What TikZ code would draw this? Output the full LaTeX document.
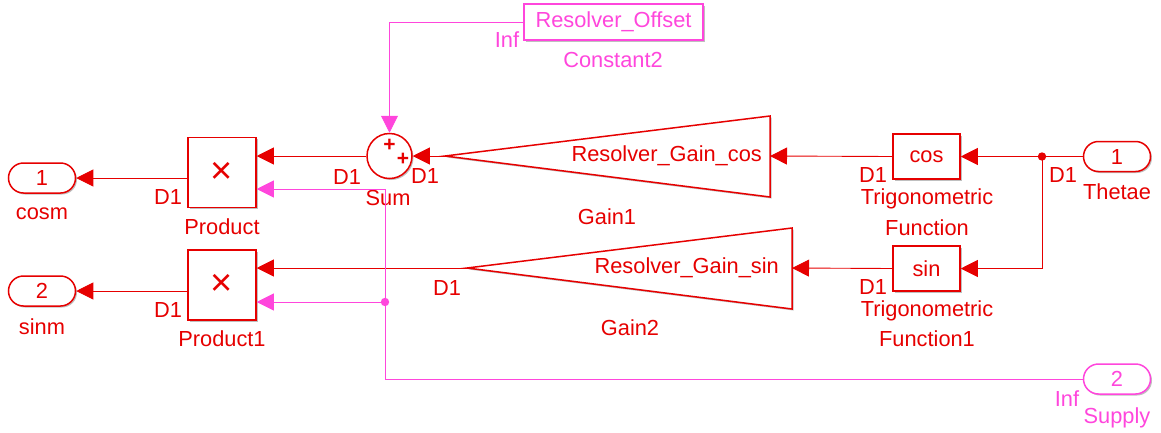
\documentclass[tikz,border=0pt]{standalone}
\usepackage{fontspec}
\setmainfont{Liberation Sans}
\usetikzlibrary{arrows.meta,shadows}
\definecolor{sigred}{RGB}{230,0,0}
\definecolor{sigpink}{RGB}{255,70,220}
\tikzset{
  every node/.style={font=\fontsize{21.8}{26}\selectfont},
  shade/.style={drop shadow={shadow xshift=1.5pt,shadow yshift=-1.5pt,fill=black,opacity=0.25}},
  blk/.style={draw=sigred,line width=1.5pt,fill=white,text=sigred,shade,inner sep=0pt},
  pblk/.style={blk,draw=sigpink,text=sigpink},
  port/.style={blk,rounded corners=15pt,minimum width=67pt,minimum height=30pt},
  pport/.style={port,draw=sigpink,text=sigpink},
  lbl/.style={text=sigred,inner sep=0pt},
  plbl/.style={text=sigpink,inner sep=0pt},
  plus/.style={lbl,font=\fontsize{21}{21}\selectfont\bfseries},
  times/.style={font=\fontsize{38}{38}\selectfont},
  rwire/.style={draw=sigred,line width=0.9pt},
  pwire/.style={draw=sigpink,line width=0.9pt},
  rarr/.style={rwire,-{Triangle[length=17pt,width=17pt]}},
  parr/.style={pwire,-{Triangle[length=17pt,width=17pt]}},
  gainbox/.style={draw=sigred,line width=1.5pt,fill=white,shade},
}
\begin{document}
\begin{tikzpicture}[x=1pt,y=-1pt]
\useasboundingbox (0,0) rectangle (1161,432);

% --- constant offset ---
\node[pblk,minimum width=179pt,minimum height=36pt] (const) at (613.5,22) {Resolver\_Offset};
\node[plbl] (constinf) at (507,40) {Inf};
\node[plbl] (constname) at (613,60) {Constant2};

% --- sum ---
\node[blk,circle,minimum size=45pt] (sum) at (389.5,156) {};
\node[plus] (sp1) at (389.5,145.5) {+};
\node[plus] (sp2) at (403,159) {+};
\node[lbl] (sumname) at (388,198) {Sum};
\node[lbl] (sumd1) at (347,177) {D1};

% --- products ---
\node[blk,minimum width=68pt,minimum height=70pt,times] (prod) at (222,172.5) {×};
\node[lbl] (prodname) at (222,227) {Product};
\node[lbl] (prodd1) at (168,197) {D1};
\node[blk,minimum width=68pt,minimum height=70pt,times] (prod1) at (222,285) {×};
\node[lbl] (prod1name) at (222,339) {Product1};
\node[lbl] (prod1d1) at (168,310) {D1};

% --- outports ---
\node[port] (cosm) at (42,178) {1};
\node[lbl] (cosmname) at (42,214) {cosm};
\node[port] (sinm) at (42,291) {2};
\node[lbl] (sinmname) at (42,327) {sinm};

% --- gains ---
\coordinate (g1tip) at (445,156);
\coordinate (g1base) at (770,156);
\draw[gainbox] (g1tip) -- (770,116) -- (770,197) -- cycle;
\node[lbl,anchor=east] (g1txt) at (762,156) {Resolver\_Gain\_cos};
\node[lbl] (g1name) at (607,217) {Gain1};
\node[lbl] (g1d1) at (425,176) {D1};

\coordinate (g2tip) at (467,268);
\coordinate (g2base) at (792,268);
\draw[gainbox] (g2tip) -- (792,228) -- (792,309) -- cycle;
\node[lbl,anchor=east] (g2txt) at (779,268) {Resolver\_Gain\_sin};
\node[lbl] (g2name) at (630,328) {Gain2};
\node[lbl] (g2d1) at (447,288) {D1};

% --- trigonometric functions ---
\node[blk,minimum width=67pt,minimum height=45pt] (cosf) at (926.5,156.5) {cos};
\node[lbl] (cosd1) at (873,175) {D1};
\node[lbl] (cosn1) at (927,199) {Trigonometric};
\node[lbl] (cosn2) at (927,228) {Function};
\node[blk,minimum width=67pt,minimum height=45pt] (sinf) at (926.5,268.5) {sin};
\node[lbl] (sind1) at (873,287) {D1};
\node[lbl] (sinn1) at (927,311) {Trigonometric};
\node[lbl] (sinn2) at (927,339) {Function1};

% --- inports ---
\node[port] (thetae) at (1117,156.5) {1};
\node[lbl] (thetaed1) at (1063,175) {D1};
\node[lbl] (thetaename) at (1117,192) {Thetae};
\node[pport] (supply) at (1117,379) {2};
\node[plbl] (supplyinf) at (1067,399) {Inf};
\node[plbl] (supplyname) at (1117,418) {Supply};

% --- junctions ---
\coordinate (jt) at (1042,156.5);
\coordinate (js) at (385,302);

% --- red signals ---
\draw[rwire] (thetae.west) -- (jt);
\draw[rarr] (jt) -- (cosf.east);
\draw[rarr] (jt) |- (sinf.east);
\fill[sigred] (jt) circle (4.2pt);
\draw[rarr] (cosf.west) -- (g1base);
\draw[rarr] (sinf.west) -- (g2base);
\draw[rarr] (g1tip) -- (sum.east);
\draw[rarr] (sum.west) -- ([yshift=16.5pt]prod.east);
\draw[rarr] (g2tip) -- ([yshift=17pt]prod1.east);
\draw[rarr] ([yshift=-5.5pt]prod.west) -- (cosm.east);
\draw[rarr] ([yshift=-6pt]prod1.west) -- (sinm.east);

% --- pink signals ---
\draw[parr] (const.west) -| (sum.north);
\draw[pwire] (supply.west) -| (js);
\draw[parr] (js) |- ([yshift=-16.5pt]prod.east);
\draw[parr] (js) -- ([yshift=-17pt]prod1.east);
\fill[sigpink] (js) circle (4.2pt);
\end{tikzpicture}
\end{document}
